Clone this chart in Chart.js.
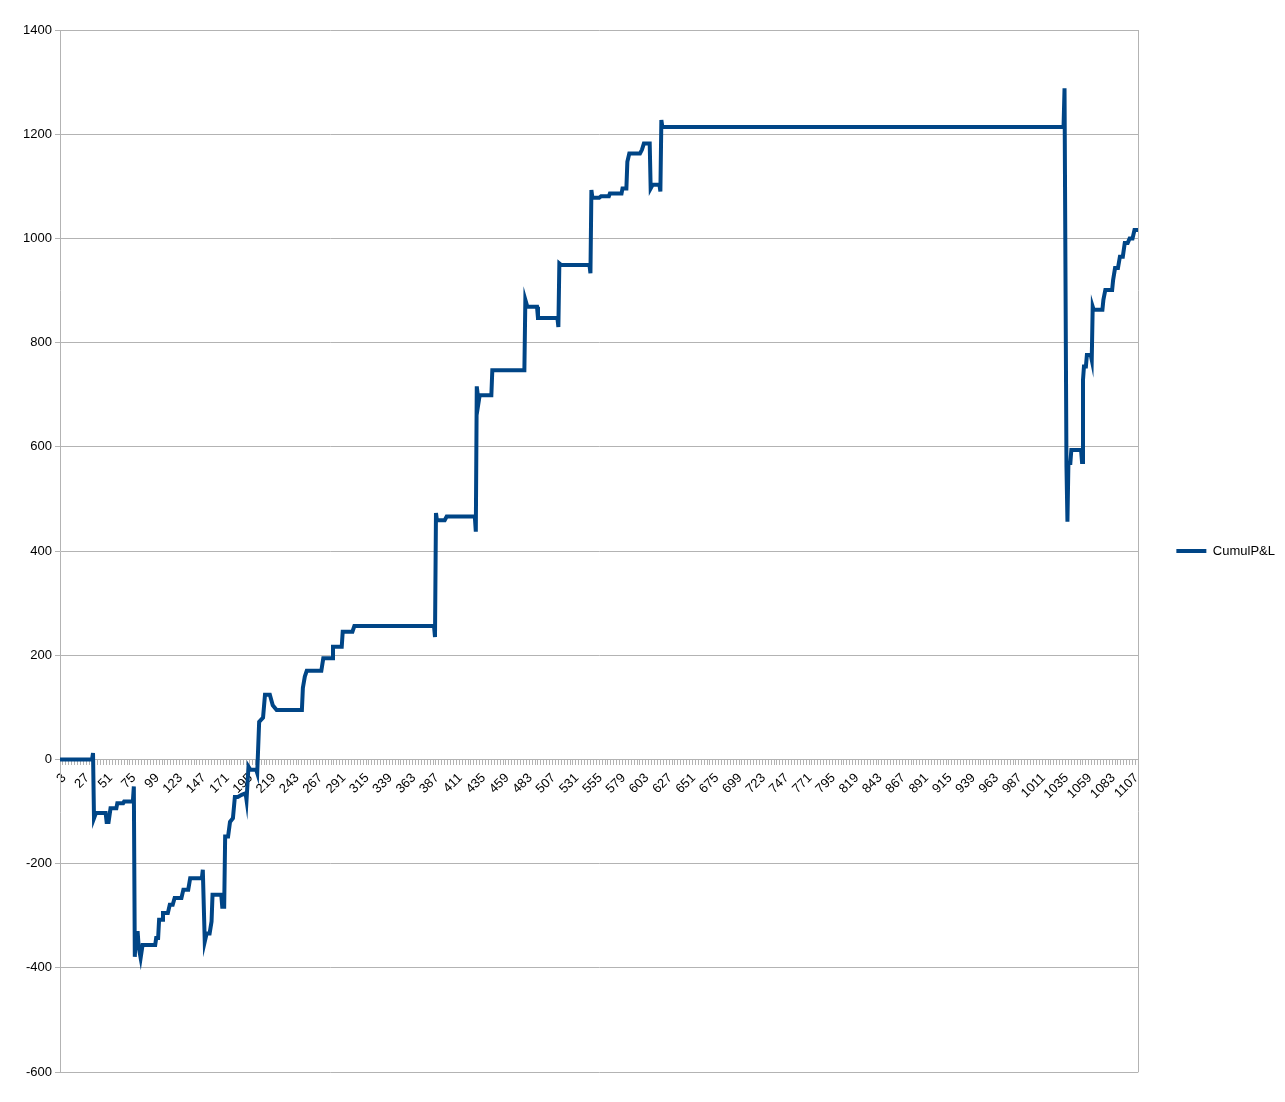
<!doctype html>
<html lang="en">
<head>
<meta charset="utf-8">
<title>CumulP&amp;L</title>
<script src="https://cdn.jsdelivr.net/npm/chart.js"></script>
<style>
  body { margin: 0; background: #fff; }
</style>
</head>
<body>
<canvas id="lineChart" width="1285" height="1102"></canvas>
<script>
    // category (trade #) where the curve changes, and the cumulative P&L there
    let categories = [3, 36, 37, 38, 40, 50, 51, 53, 55, 61, 62, 68, 69, 78, 79, 80, 81, 83, 84, 86, 88, 101, 102, 104, 105, 108, 109, 114, 116, 119, 121, 128, 130, 135, 137, 149, 150, 152, 154, 157, 159, 160, 169, 170, 172, 173, 176, 178, 181, 183, 186, 190, 194, 195, 197, 199, 205, 206, 208, 212, 214, 219, 222, 226, 252, 253, 255, 257, 272, 274, 283, 284, 293, 294, 304, 306, 388, 389, 390, 391, 399, 401, 430, 431, 432, 433, 434, 435, 447, 448, 481, 482, 484, 494, 495, 515, 516, 517, 519, 548, 549, 550, 551, 558, 560, 568, 569, 581, 582, 586, 587, 589, 600, 602, 604, 610, 611, 613, 620, 621, 622, 623, 1036, 1037, 1039, 1040, 1041, 1043, 1044, 1054, 1055, 1056, 1057, 1059, 1060, 1064, 1065, 1066, 1067, 1076, 1077, 1079, 1086, 1087, 1089, 1092, 1094, 1097, 1099, 1102, 1104, 1107, 1109, 1113];
    let cumulPnl = [0, 0, 12, -113, -103, -103, -120, -120, -94, -94, -84, -84, -81, -81, -52, -379, -333, -333, -360, -381, -356, -356, -343, -343, -308, -308, -295, -295, -279, -279, -266, -266, -250, -250, -228, -228, -212, -350, -334, -334, -311, -260, -260, -283, -283, -148, -148, -120, -113, -72, -72, -68, -65, -78, -14, -20, -20, -26, 72, 80, 124, 124, 104, 95, 95, 137, 159, 170, 170, 194, 194, 216, 216, 245, 245, 256, 256, 235, 473, 459, 459, 466, 466, 437, 716, 700, 687, 699, 699, 747, 747, 882, 869, 869, 847, 847, 830, 952, 949, 949, 933, 1093, 1078, 1078, 1081, 1081, 1086, 1086, 1096, 1096, 1147, 1163, 1163, 1170, 1182, 1182, 1096, 1103, 1103, 1090, 1227, 1214, 1214, 1288, 562, 456, 569, 569, 594, 594, 571, 728, 754, 754, 776, 776, 767, 869, 863, 863, 882, 901, 901, 920, 943, 943, 965, 965, 991, 991, 1000, 1000, 1016, 1016];
    let xTickLabels = [3, 27, 51, 75, 99, 123, 147, 171, 195, 219, 243, 267, 291, 315, 339, 363, 387, 411, 435, 459, 483, 507, 531, 555, 579, 603, 627, 651, 675, 699, 723, 747, 771, 795, 819, 843, 867, 891, 915, 939, 963, 987, 1011, 1035, 1059, 1083, 1107];
    let yTicks = [-600, -400, -200, 0, 200, 400, 600, 800, 1000, 1200, 1400];

    let gridColor = '#b3b3b3';
    Chart.defaults.font.family = "'Liberation Sans', Arial, sans-serif";
    Chart.defaults.font.size = 13;
    Chart.defaults.color = '#000';

    // right-hand frame of the plot area
    let frame = {
        id: 'frame',
        afterDraw(chart) {
            let a = chart.chartArea, ctx = chart.ctx;
            ctx.save();
            ctx.strokeStyle = gridColor;
            ctx.lineWidth = 1;
            ctx.beginPath();
            ctx.moveTo(Math.round(a.right) + 0.5, a.top);
            ctx.lineTo(Math.round(a.right) + 0.5, a.bottom);
            ctx.stroke();
            ctx.restore();
        }
    };

    let points = categories.map((c, i) => ({x: c, y: cumulPnl[i]}));

    let ctx = document.getElementById('lineChart').getContext('2d');
    window.myLine = new Chart(ctx, {
        type: 'line',
        data: {
            datasets: [{
                label: 'CumulP&L',
                data: points,
                borderColor: '#004586',
                backgroundColor: '#004586',
                borderWidth: 4,
                pointRadius: 0,
                tension: 0,
                fill: false
            }]
        },
        plugins: [frame],
        options: {
            responsive: false,
            animation: false,
            layout: { padding: { top: 30, bottom: 30, left: 0, right: 0 } },
            plugins: {
                tooltip: { enabled: false },
                legend: {
                    position: 'right',
                    labels: {
                        usePointStyle: true,
                        pointStyle: 'line',
                        pointStyleWidth: 30,
                        padding: 38,
                        color: '#000'
                    }
                }
            },
            scales: {
                x: {
                    type: 'linear',
                    position: { y: 0 },
                    min: categories[0],
                    max: categories[categories.length - 1],
                    grid: { drawOnChartArea: false, drawTicks: true, tickLength: 5, color: gridColor },
                    border: { color: gridColor },
                    ticks: {
                        stepSize: 3,
                        autoSkip: false,
                        minRotation: 45,
                        maxRotation: 45,
                        padding: 6,
                        labelOffset: 4,
                        callback: (v) => xTickLabels.includes(v) ? String(v) : ''
                    }
                },
                y: {
                    min: yTicks[0],
                    max: yTicks[yTicks.length - 1],
                    afterFit(scale) { scale.width = 60; },
                    grid: { color: gridColor, tickLength: 5 },
                    border: { color: gridColor },
                    ticks: { stepSize: 200, padding: 3, callback: (v) => String(v) }
                }
            }
        }
    });
</script>
</body>
</html>
